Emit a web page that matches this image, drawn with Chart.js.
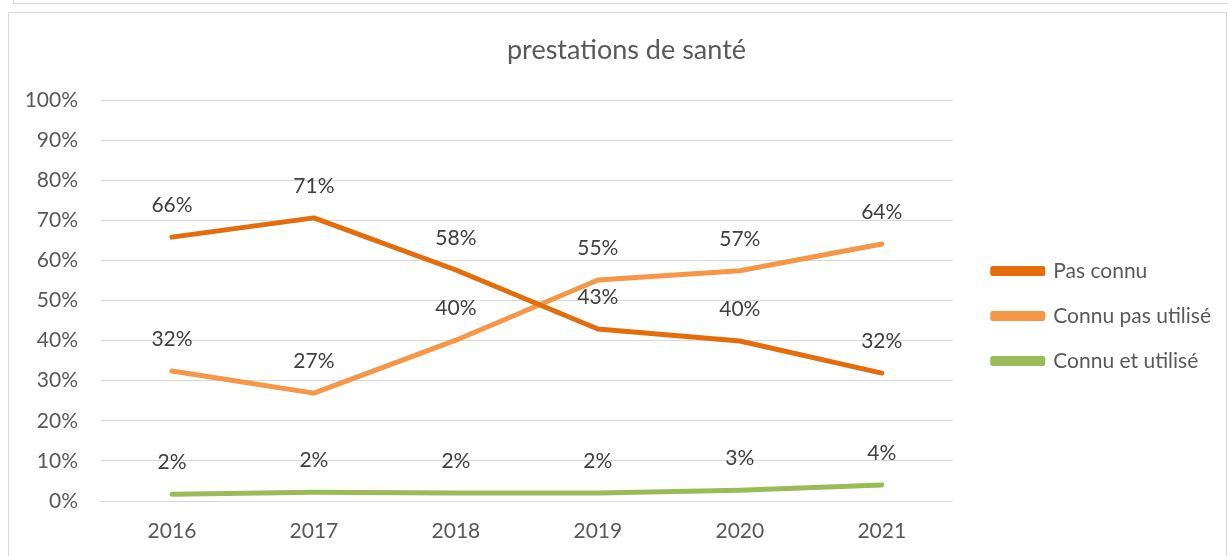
<!DOCTYPE html>
<html><head><meta charset="utf-8">
<script src="https://cdn.jsdelivr.net/npm/chart.js@4/dist/chart.umd.min.js"></script>
<style>
html,body{margin:0;padding:0;background:#fff;}
#wrap{position:relative;width:1228px;height:556px;overflow:hidden;}
canvas{position:absolute;left:0;top:0;}
.f1{position:absolute;left:13px;top:-100px;width:1300px;height:104px;border:1px solid #d9d9d9;box-sizing:border-box;}
.f2{position:absolute;left:8px;top:12px;width:1219px;height:600px;border:1px solid #d9d9d9;box-sizing:border-box;}
</style></head>
<body><div id="wrap"><div class="f1"></div><div class="f2"></div><canvas id="c" width="1228" height="556"></canvas></div>
<script>
const categories = ['2016','2017','2018','2019','2020','2021'];
const pasConnu = [65.8, 70.6, 57.6, 42.9, 39.9, 31.9];
const connuPasUtilise = [32.4, 26.9, 40.1, 55.1, 57.4, 64.1];
const connuEtUtilise = [1.7, 2.2, 2.0, 2.0, 2.7, 4.0];
const yTicks = [0,10,20,30,40,50,60,70,80,90,100];
const seriesNames = ['Pas connu','Connu pas utilisé','Connu et utilisé'];
const FONT = 'Lato, "Liberation Sans", sans-serif';

const labelPlugin = {
  id:'vlabels',
  afterDatasetsDraw(chart){
    const ctx = chart.ctx;
    ctx.save();
    ctx.font = '21px ' + FONT;
    ctx.fillStyle = '#404040';
    ctx.textAlign = 'center';
    ctx.textBaseline = 'middle';
    chart.data.datasets.forEach((ds,i)=>{
      const meta = chart.getDatasetMeta(i);
      meta.data.forEach((el,j)=>{
        ctx.fillText(Math.round(ds.data[j]) + '%', el.x, el.y - 32);
      });
    });
    ctx.restore();
  }
};

const boxShift = {
  id:'boxShift',
  afterLayout(chart){
    const lg = chart.legend;
    if(lg){
      const dx = 16, dy = 38;
      lg.left += dx; lg.right += dx; lg.top += dy; lg.bottom += dy;
    }
    const tb = chart.titleBlock;
    if(tb){
      tb.left += 24; tb.right += 24;
    }
  }
};

new Chart(document.getElementById('c'), {
  type:'line',
  data:{
    labels: categories,
    datasets:[
      {label:seriesNames[0], data:pasConnu, borderColor:'#E46C0A', backgroundColor:'#E46C0A'},
      {label:seriesNames[1], data:connuPasUtilise, borderColor:'#F79646', backgroundColor:'#F79646'},
      {label:seriesNames[2], data:connuEtUtilise, borderColor:'#9BBB59', backgroundColor:'#9BBB59'}
    ]
  },
  options:{
    responsive:false,
    animation:false,
    elements:{line:{borderWidth:5, tension:0, borderCapStyle:'round', borderJoinStyle:'round'}, point:{radius:0, hoverRadius:0}},
    layout:{padding:{left:0,right:23,top:0,bottom:0}},
    plugins:{
      title:{display:true, text:'prestations de santé', color:'#595959', font:{family:FONT, size:27, weight:'normal'}, padding:{top:34,bottom:33.6}},
      legend:{position:'right', labels:{boxWidth:50, boxHeight:5, color:'#595959', font:{family:FONT,size:21}, padding:24}},
      tooltip:{enabled:false}
    },
    scales:{
      x:{offset:true, grid:{display:false, drawTicks:false}, border:{display:false},
         afterFit(s){s.height=55;},
         ticks:{color:'#595959', font:{family:FONT,size:21}, padding:18}},
      y:{min:0,max:100, afterFit(s){s.width=101;},
         afterBuildTicks(s){s.ticks = yTicks.map(v=>({value:v}));},
         grid:{color:'#d9d9d9', lineWidth:1, drawTicks:false}, border:{display:false},
         ticks:{color:'#595959', font:{family:FONT,size:21}, padding:23, callback:v=>v+'%'}}
    }
  },
  plugins:[labelPlugin, boxShift]
});
</script></body></html>
